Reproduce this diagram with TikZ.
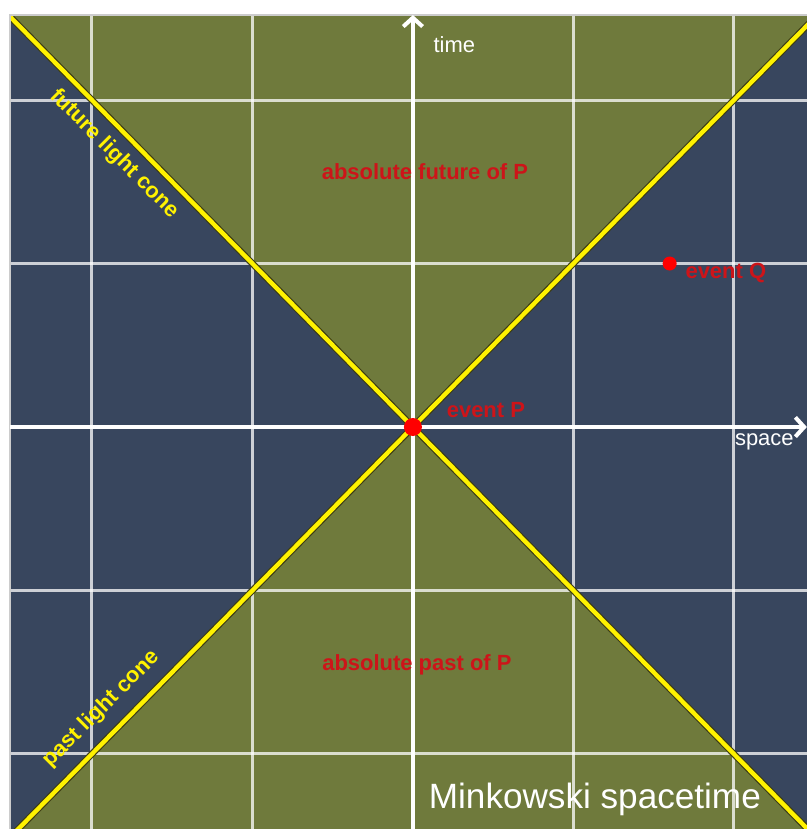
\documentclass[tikz,border=0pt]{standalone}
\usepackage{fontspec}
\setmainfont{Liberation Sans}
\usetikzlibrary{arrows.meta}
\definecolor{elsewhere}{RGB}{56,70,94}
\definecolor{conefill}{RGB}{111,122,60}
\definecolor{conerim}{RGB}{60,60,20}
\definecolor{eventred}{RGB}{205,20,25}
\begin{document}
\begin{tikzpicture}[x=3.21cm, y=3.27cm,
    every node/.style={font=\fontsize{12.5}{14}\selectfont},
    gridline/.style={white, opacity=.75, line width=1.7pt},
    axis/.style={white, line width=2.3pt, -{Straight Barb[length=5pt,width=11pt]}},
    cone/.style={yellow, line width=2.5pt, preaction={draw=conerim, line width=3.8pt}},
    conelabel/.style={yellow, font=\fontsize{12.5}{14}\selectfont\bfseries},
    redlabel/.style={eventred, font=\fontsize{12.5}{14}\selectfont\bfseries}]
  \useasboundingbox (-2.573,-2.459) rectangle (2.455,2.612);
  \coordinate (SW) at (-2.511,-2.459); \coordinate (NE) at (2.455,2.52);
  \coordinate (P) at (0,0); \coordinate (Q) at (1.6,1);
  \coordinate (T0) at (0,-2.459); \coordinate (T1) at (0,2.52);
  \coordinate (S0) at (-2.511,0); \coordinate (S1) at (2.455,0);
  \fill[elsewhere] (SW) rectangle (NE);
  \begin{scope}
    \clip (SW) rectangle (NE);
    \fill[conefill] (P) -- (-3,3) -- (3,3) -- cycle;
    \fill[conefill] (P) -- (-3,-3) -- (3,-3) -- cycle;
    \foreach \i in {-2,-1,1,2} {
      \draw[gridline] (\i,-2.459) -- (\i,2.52);
      \draw[gridline] (-2.511,\i) -- (2.455,\i);
    }
    \draw[cone] (-3,3) -- (3,-3);
    \draw[cone] (-3,-3) -- (3,3);
  \end{scope}
  \draw[gray!40, line width=.8pt] (SW) |- (NE);
  \draw[axis] (T0) -- (T1);
  \draw[axis] (S0) -- (S1);
  \fill[red] (P) circle[radius=.18cm];
  \fill[red] (Q) circle[radius=.14cm];
  \node[white, anchor=west] (time) at (.09,2.34) {time};
  \node[white] (space) at (2.19,-.09) {space};
  \node[redlabel] (future) at (.075,1.56) {absolute future of P};
  \node[redlabel] (past) at (.025,-1.456) {absolute past of P};
  \node[redlabel] (eventP) at (.455,.104) {event P};
  \node[redlabel] (eventQ) at (1.95,.94) {event Q};
  \node[conelabel, rotate=-45] (flc) at (-1.86,1.67) {future light cone};
  \node[conelabel, rotate=45] (plc) at (-1.94,-1.725) {past light cone};
  \node[white, font=\fontsize{20}{24}\selectfont] (title) at (1.134,-2.28) {Minkowski spacetime};
\end{tikzpicture}
\end{document}
